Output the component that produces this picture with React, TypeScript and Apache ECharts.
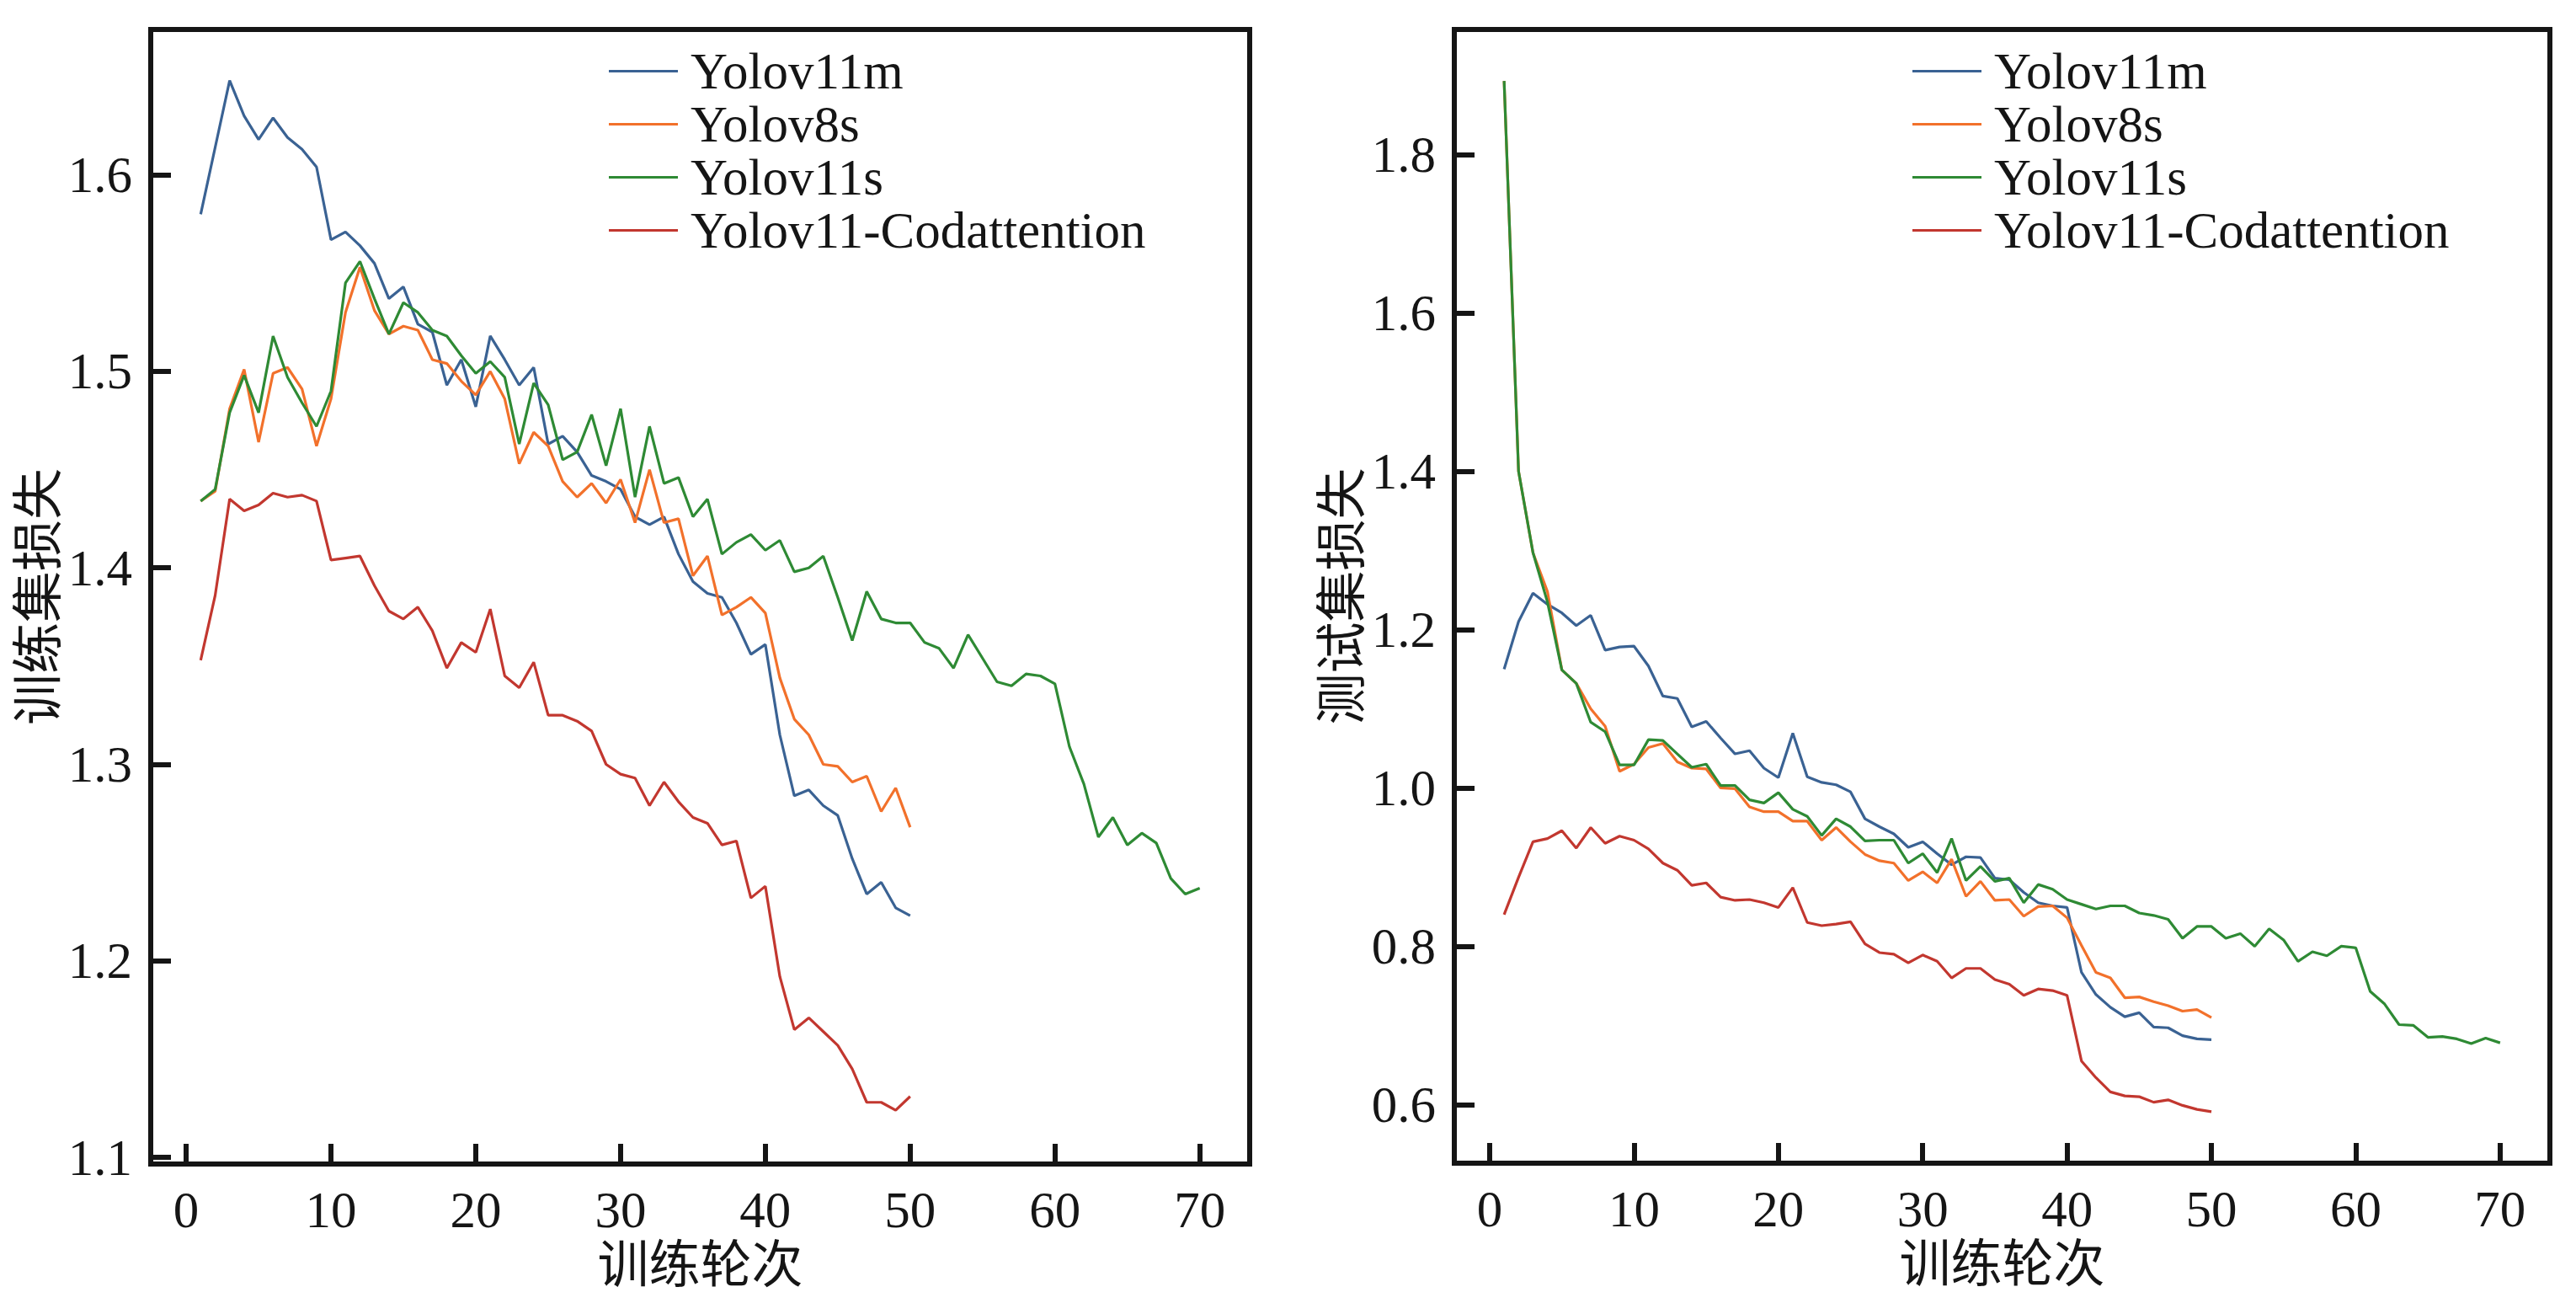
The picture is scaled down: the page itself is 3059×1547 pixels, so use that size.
import React, { useEffect, useRef } from "react";
import * as echarts from "echarts";

const seriesNames = ["Yolov11m", "Yolov8s", "Yolov11s", "Yolov11-Codattention"];

const trainYolov11m = [
  1.580, 1.614, 1.648, 1.630, 1.618, 1.629, 1.619, 1.613, 1.604, 1.567,
  1.571, 1.564, 1.555, 1.537, 1.543, 1.524, 1.520, 1.493, 1.506, 1.482,
  1.518, 1.506, 1.493, 1.502, 1.463, 1.467, 1.459, 1.447, 1.444, 1.440,
  1.426, 1.422, 1.426, 1.407, 1.393, 1.387, 1.385, 1.372, 1.356, 1.361,
  1.315, 1.284, 1.287, 1.279, 1.274, 1.252, 1.234, 1.240, 1.227, 1.223,
];
const trainYolov8s = [
  1.434, 1.439, 1.481, 1.501, 1.464, 1.499, 1.502, 1.491, 1.462, 1.486,
  1.530, 1.553, 1.531, 1.519, 1.523, 1.521, 1.506, 1.504, 1.495, 1.488,
  1.500, 1.486, 1.453, 1.469, 1.462, 1.444, 1.436, 1.443, 1.433, 1.445,
  1.423, 1.450, 1.423, 1.425, 1.396, 1.406, 1.376, 1.380, 1.385, 1.377,
  1.344, 1.323, 1.315, 1.300, 1.299, 1.291, 1.294, 1.276, 1.288, 1.268,
];
const trainYolov11s = [
  1.434, 1.440, 1.479, 1.498, 1.479, 1.518, 1.497, 1.484, 1.472, 1.490,
  1.545, 1.556, 1.537, 1.519, 1.535, 1.530, 1.521, 1.518, 1.508, 1.499,
  1.505, 1.497, 1.463, 1.494, 1.483, 1.455, 1.459, 1.478, 1.452, 1.481,
  1.436, 1.472, 1.443, 1.446, 1.426, 1.435, 1.407, 1.413, 1.417, 1.409,
  1.414, 1.398, 1.400, 1.406, 1.385, 1.363, 1.388, 1.374, 1.372, 1.372,
  1.362, 1.359, 1.349, 1.366, 1.354, 1.342, 1.340, 1.346, 1.345, 1.341,
  1.309, 1.290, 1.263, 1.273, 1.259, 1.265, 1.260, 1.242, 1.234, 1.237,
];
const trainCodattention = [
  1.353, 1.386, 1.435, 1.429, 1.432, 1.438, 1.436, 1.437, 1.434, 1.404,
  1.405, 1.406, 1.391, 1.378, 1.374, 1.380, 1.368, 1.349, 1.362, 1.357,
  1.379, 1.345, 1.339, 1.352, 1.325, 1.325, 1.322, 1.317, 1.300, 1.295,
  1.293, 1.279, 1.291, 1.281, 1.273, 1.270, 1.259, 1.261, 1.232, 1.238,
  1.192, 1.165, 1.171, 1.164, 1.157, 1.145, 1.128, 1.128, 1.124, 1.131,
];

const valYolov11m = [
  1.150, 1.210, 1.246, 1.232, 1.221, 1.205, 1.218, 1.174, 1.178, 1.179,
  1.154, 1.116, 1.113, 1.077, 1.084, 1.063, 1.043, 1.047, 1.025, 1.013,
  1.069, 1.014, 1.007, 1.004, 0.995, 0.961, 0.951, 0.942, 0.925, 0.932,
  0.917, 0.903, 0.913, 0.912, 0.886, 0.884, 0.868, 0.855, 0.851, 0.849,
  0.767, 0.739, 0.723, 0.711, 0.716, 0.698, 0.697, 0.687, 0.683, 0.682,
];
const valYolov8s = [
  1.893, 1.400, 1.297, 1.248, 1.149, 1.132, 1.100, 1.078, 1.021, 1.030,
  1.051, 1.056, 1.033, 1.025, 1.024, 1.000, 0.999, 0.976, 0.970, 0.970,
  0.958, 0.958, 0.934, 0.950, 0.932, 0.916, 0.908, 0.905, 0.883, 0.894,
  0.880, 0.910, 0.863, 0.882, 0.858, 0.859, 0.838, 0.850, 0.851, 0.836,
  0.801, 0.767, 0.760, 0.735, 0.736, 0.730, 0.725, 0.718, 0.720, 0.710,
];
const valYolov11s = [
  1.893, 1.400, 1.297, 1.235, 1.149, 1.132, 1.083, 1.071, 1.029, 1.029,
  1.061, 1.060, 1.043, 1.026, 1.030, 1.003, 1.003, 0.985, 0.981, 0.994,
  0.973, 0.964, 0.940, 0.961, 0.951, 0.933, 0.934, 0.934, 0.905, 0.917,
  0.893, 0.936, 0.883, 0.901, 0.882, 0.886, 0.855, 0.878, 0.872, 0.859,
  0.853, 0.847, 0.851, 0.851, 0.842, 0.839, 0.834, 0.810, 0.825, 0.825,
  0.810, 0.816, 0.800, 0.822, 0.808, 0.781, 0.793, 0.788, 0.800, 0.798,
  0.743, 0.727, 0.701, 0.700, 0.685, 0.686, 0.683, 0.677, 0.684, 0.678,
];
const valCodattention = [
  0.840, 0.887, 0.932, 0.936, 0.946, 0.924, 0.950, 0.930, 0.939, 0.934,
  0.923, 0.905, 0.896, 0.877, 0.880, 0.862, 0.858, 0.859, 0.855, 0.849,
  0.874, 0.830, 0.826, 0.828, 0.831, 0.803, 0.792, 0.790, 0.779, 0.789,
  0.781, 0.760, 0.772, 0.772, 0.758, 0.752, 0.738, 0.746, 0.744, 0.738,
  0.655, 0.634, 0.616, 0.611, 0.610, 0.603, 0.606, 0.599, 0.594, 0.591,
];

const xTicks = [0, 10, 20, 30, 40, 50, 60, 70];
const trainYTicks = [1.1, 1.2, 1.3, 1.4, 1.5, 1.6];
const valYTicks = [0.6, 0.8, 1.0, 1.2, 1.4, 1.6, 1.8];
const xAxisLabel = "训练轮次";
const trainYAxisLabel = "训练集损失";
const valYAxisLabel = "测试集损失";

const COLORS = ["#3a6293", "#f2712b", "#2e8a34", "#c2372f"];
const FONT = "'Liberation Serif', 'Times New Roman', 'Noto Sans CJK SC', serif";
const INK = "#151515";
const FS = 61;
const LINE_W = 3.2;

function toPoints(arr: number[]) {
  return arr.map((v, i) => [i + 1, v]);
}

function makeXAxis(gridIndex: number) {
  return {
    type: "value",
    gridIndex,
    min: -2.45,
    max: 73.45,
    splitLine: { show: false },
    axisLine: { show: true, onZero: false, lineStyle: { color: INK, width: 6 } },
    axisTick: {
      show: true,
      inside: true,
      length: 24,
      customValues: xTicks,
      lineStyle: { color: INK, width: 6 },
    },
    axisLabel: {
      customValues: xTicks,
      margin: 24,
      color: INK,
      fontSize: FS,
      fontFamily: FONT,
      formatter: (v: number) => String(Math.round(v)),
    },
    name: xAxisLabel,
    nameLocation: "middle",
    nameGap: 90,
    nameTextStyle: { color: INK, fontSize: FS, fontFamily: FONT },
  };
}

function makeYAxis(gridIndex: number, min: number, max: number, ticks: number[], name: string) {
  return {
    type: "value",
    gridIndex,
    min,
    max,
    splitLine: { show: false },
    axisLine: { show: true, onZero: false, lineStyle: { color: INK, width: 6 } },
    axisTick: {
      show: true,
      inside: true,
      length: 24,
      customValues: ticks,
      lineStyle: { color: INK, width: 6 },
    },
    axisLabel: {
      customValues: ticks,
      margin: 22,
      color: INK,
      fontSize: FS,
      fontFamily: FONT,
      formatter: (v: number) => v.toFixed(1),
    },
    name,
    nameLocation: "middle",
    nameGap: 98,
    nameTextStyle: { color: INK, fontSize: FS, fontFamily: FONT },
  };
}

function makeLegend(left: number) {
  return {
    orient: "vertical",
    left,
    top: 48,
    itemWidth: 82,
    itemHeight: 3,
    itemGap: 0,
    icon: "rect",
    data: seriesNames,
    selectedMode: false,
    textStyle: {
      color: INK,
      fontSize: FS,
      fontFamily: FONT,
      lineHeight: 63,
      padding: [0, 0, 0, 10],
    },
  };
}

export default function App() {
  const ref = useRef<HTMLDivElement>(null);

  useEffect(() => {
    if (!ref.current) return;
    const chart = echarts.init(ref.current, undefined, { renderer: "svg" });

    const trainSets = [trainYolov11m, trainYolov8s, trainYolov11s, trainCodattention];
    const valSets = [valYolov11m, valYolov8s, valYolov11s, valCodattention];

    const series: any[] = [];
    trainSets.forEach((arr, i) => {
      series.push({
        type: "line",
        name: seriesNames[i],
        xAxisIndex: 0,
        yAxisIndex: 0,
        data: toPoints(arr),
        symbol: "none",
        color: COLORS[i],
        lineStyle: { color: COLORS[i], width: LINE_W },
      });
    });
    valSets.forEach((arr, i) => {
      series.push({
        type: "line",
        name: seriesNames[i],
        xAxisIndex: 1,
        yAxisIndex: 1,
        data: toPoints(arr),
        symbol: "none",
        color: COLORS[i],
        lineStyle: { color: COLORS[i], width: LINE_W },
      });
    });

    chart.setOption({
      animation: false,
      backgroundColor: "#ffffff",
      grid: [
        { left: 179, top: 35, width: 1305, height: 1347, show: true, borderColor: INK, borderWidth: 6, backgroundColor: "transparent" },
        { left: 1727, top: 35, width: 1301, height: 1346, show: true, borderColor: INK, borderWidth: 6, backgroundColor: "transparent" },
      ],
      legend: [makeLegend(718), makeLegend(2266)],
      xAxis: [makeXAxis(0), makeXAxis(1)],
      yAxis: [
        makeYAxis(0, 1.0966, 1.674, trainYTicks, trainYAxisLabel),
        makeYAxis(1, 0.526, 1.958, valYTicks, valYAxisLabel),
      ],
      series,
    });

    return () => {
      chart.dispose();
    };
  }, []);

  return (
    <div
      ref={ref}
      style={{ position: "absolute", left: 0, top: 0, width: 3059, height: 1547, background: "#fff" }}
    />
  );
}
